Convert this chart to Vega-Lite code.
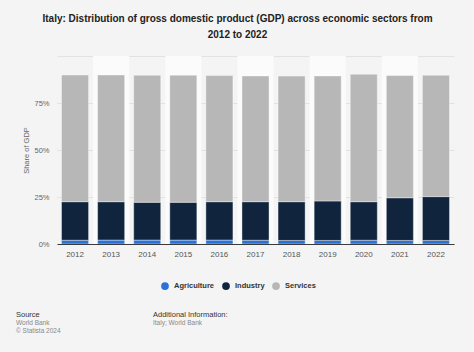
{
  "$schema": "https://vega.github.io/schema/vega-lite/v6.json",
  "width": 397,
  "height": 188,
  "autosize": {"type": "none"},
  "padding": {"left": 57, "top": 56, "right": 20, "bottom": 108},
  "background": "#f4f4f4",
  "config": {"view": {"stroke": null}, "font": "Liberation Sans"},
  "title": {
    "text": ["Italy: Distribution of gross domestic product (GDP) across economic sectors from", "2012 to 2022"],
    "fontSize": 10,
    "fontWeight": "bold",
    "color": "#222222",
    "lineHeight": 16.5,
    "anchor": "middle",
    "dx": -18,
    "offset": 16
  },
  "datasets": {
    "cols": [
      {"year": "2013"}, {"year": "2015"}, {"year": "2017"}, {"year": "2019"}, {"year": "2021"}
    ],
    "gdp": [
      {"year": "2012", "sector": "Agriculture", "share": 2.0},
      {"year": "2012", "sector": "Industry", "share": 20.5},
      {"year": "2012", "sector": "Services", "share": 67.4},
      {"year": "2013", "sector": "Agriculture", "share": 2.1},
      {"year": "2013", "sector": "Industry", "share": 20.4},
      {"year": "2013", "sector": "Services", "share": 67.4},
      {"year": "2014", "sector": "Agriculture", "share": 2.1},
      {"year": "2014", "sector": "Industry", "share": 20.1},
      {"year": "2014", "sector": "Services", "share": 67.6},
      {"year": "2015", "sector": "Agriculture", "share": 2.1},
      {"year": "2015", "sector": "Industry", "share": 20.1},
      {"year": "2015", "sector": "Services", "share": 67.6},
      {"year": "2016", "sector": "Agriculture", "share": 2.1},
      {"year": "2016", "sector": "Industry", "share": 20.4},
      {"year": "2016", "sector": "Services", "share": 67.1},
      {"year": "2017", "sector": "Agriculture", "share": 2.0},
      {"year": "2017", "sector": "Industry", "share": 20.5},
      {"year": "2017", "sector": "Services", "share": 66.9},
      {"year": "2018", "sector": "Agriculture", "share": 1.9},
      {"year": "2018", "sector": "Industry", "share": 20.6},
      {"year": "2018", "sector": "Services", "share": 66.8},
      {"year": "2019", "sector": "Agriculture", "share": 1.9},
      {"year": "2019", "sector": "Industry", "share": 21.0},
      {"year": "2019", "sector": "Services", "share": 66.5},
      {"year": "2020", "sector": "Agriculture", "share": 2.0},
      {"year": "2020", "sector": "Industry", "share": 20.5},
      {"year": "2020", "sector": "Services", "share": 67.8},
      {"year": "2021", "sector": "Agriculture", "share": 1.9},
      {"year": "2021", "sector": "Industry", "share": 22.7},
      {"year": "2021", "sector": "Services", "share": 65.0},
      {"year": "2022", "sector": "Agriculture", "share": 1.9},
      {"year": "2022", "sector": "Industry", "share": 23.3},
      {"year": "2022", "sector": "Services", "share": 64.6}
    ]
  },
  "layer": [
    {
      "data": {"name": "cols"},
      "mark": {"type": "rect", "color": "#fbfbfb"},
      "encoding": {
        "x": {
          "field": "year",
          "type": "ordinal",
          "scale": {"domain": ["2012","2013","2014","2015","2016","2017","2018","2019","2020","2021","2022"], "paddingInner": 0, "paddingOuter": 0},
          "axis": {"title": null, "labelAngle": 0, "labelFontSize": 8, "labelColor": "#555555", "ticks": false, "labelPadding": 6, "domainColor": "#3a3a3a", "domainWidth": 1}
        }
      }
    },
    {
      "data": {"name": "gdp"},
      "mark": {"type": "bar", "width": {"band": 0.75}, "stroke": "#ffffff", "strokeWidth": 0.4},
      "encoding": {
        "x": {"field": "year", "type": "ordinal"},
        "y": {
          "field": "share",
          "type": "quantitative",
          "stack": "zero",
          "scale": {"domain": [0, 100], "nice": false},
          "axis": {
            "values": [0, 25, 50, 75, 100],
            "labelExpr": "datum.value == 100 ? '' : datum.value + '%'",
            "grid": true,
            "gridColor": "#e2e2e2",
            "gridWidth": 1,
            "domain": false,
            "ticks": false,
            "labelFontSize": 7.5,
            "labelColor": "#666666",
            "labelPadding": 8,
            "title": "Share of GDP",
            "titleFontSize": 7.5,
            "titleFontWeight": "normal",
            "titleColor": "#666666",
            "titlePadding": 3
          }
        },
        "color": {
          "field": "sector",
          "type": "nominal",
          "scale": {"domain": ["Agriculture", "Industry", "Services"], "range": ["#2a72d8", "#10253d", "#b7b7b7"]},
          "legend": {
            "title": null,
            "orient": "none",
            "legendX": 104,
            "legendY": 226,
            "direction": "horizontal",
            "symbolType": "circle",
            "symbolSize": 60,
            "symbolStrokeWidth": 0,
            "labelFontSize": 7.5,
            "labelFontWeight": "bold",
            "labelColor": "#333333",
            "labelOffset": 5,
            "columnPadding": 7
          }
        },
        "order": {"field": "sector", "sort": "ascending"}
      }
    },
    {
      "data": {"values": [{}]},
      "mark": {"type": "text", "text": "Source", "align": "left", "baseline": "middle", "fontSize": 7.5, "color": "#333333"},
      "encoding": {"x": {"value": -41}, "y": {"value": 259}}
    },
    {
      "data": {"values": [{}]},
      "mark": {"type": "text", "text": ["World Bank", "© Statista 2024"], "align": "left", "baseline": "middle", "fontSize": 6.5, "lineHeight": 7.5, "color": "#888888"},
      "encoding": {"x": {"value": -41}, "y": {"value": 267}}
    },
    {
      "data": {"values": [{}]},
      "mark": {"type": "text", "text": "Additional Information:", "align": "left", "baseline": "middle", "fontSize": 7.5, "color": "#333333"},
      "encoding": {"x": {"value": 96}, "y": {"value": 259}}
    },
    {
      "data": {"values": [{}]},
      "mark": {"type": "text", "text": "Italy; World Bank", "align": "left", "baseline": "middle", "fontSize": 6.5, "color": "#888888"},
      "encoding": {"x": {"value": 96}, "y": {"value": 267}}
    }
  ]
}
